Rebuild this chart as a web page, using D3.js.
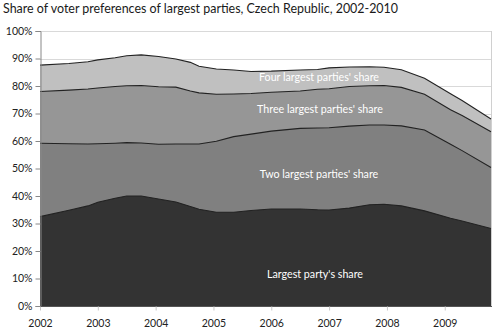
<!DOCTYPE html>
<html>
<head>
<meta charset="utf-8">
<script src="https://cdn.jsdelivr.net/npm/d3@7"></script>
<style>
  html, body { margin: 0; padding: 0; background: #fff; }
  svg { display: block; }
  text { font-family: Lato, "Open Sans", sans-serif; }
</style>
</head>
<body>
<svg id="chart" width="494" height="330"></svg>
<script>
// Survey dates (fractional years)
const dates = [2002.0, 2002.5, 2002.83, 2003.0, 2003.3, 2003.5, 2003.75, 2004.05, 2004.35, 2004.6,
  2004.75, 2005.05, 2005.35, 2005.65, 2006.0, 2006.5, 2006.8, 2007.0, 2007.35, 2007.7,
  2007.95, 2008.25, 2008.65, 2009.1, 2009.3, 2009.8];

// Cumulative shares (%) of the largest parties
const largestParty = [32.5, 34.8, 36.4, 37.7, 39.2, 40.0, 40.0, 38.9, 37.8, 36.2,
  35.2, 34.1, 34.1, 34.7, 35.3, 35.3, 35.0, 34.9, 35.6, 36.8,
  37.0, 36.4, 34.6, 31.9, 30.9, 28.2];
const twoLargest = [59.2, 59.0, 58.9, 59.0, 59.2, 59.4, 59.3, 58.8, 58.9, 58.9,
  58.9, 59.9, 61.6, 62.5, 63.6, 64.6, 64.7, 64.8, 65.4, 65.8,
  65.8, 65.5, 64.0, 58.8, 56.5, 50.4];
const threeLargest = [78.0, 78.5, 78.9, 79.3, 79.8, 80.1, 80.2, 79.7, 79.6, 78.2,
  77.5, 77.0, 77.1, 77.3, 77.7, 78.2, 78.8, 79.0, 79.8, 80.1,
  80.2, 79.5, 77.0, 71.4, 69.3, 63.4];
const fourLargest = [87.6, 88.2, 88.8, 89.5, 90.3, 91.0, 91.3, 90.7, 89.8, 88.6,
  87.2, 86.2, 85.8, 85.3, 85.4, 85.8, 86.0, 86.6, 86.9, 87.0,
  86.8, 85.9, 82.8, 77.2, 74.7, 68.0];

const seriesNames = ["Four largest parties' share", "Three largest parties' share",
  "Two largest parties' share", "Largest party's share"];
const seriesValues = [fourLargest, threeLargest, twoLargest, largestParty];
const seriesColors = ["#c0c0c0", "#969696", "#808080", "#333333"];

const yearTicks = [2002, 2003, 2004, 2005, 2006, 2007, 2008, 2009];
const percentTicks = [0, 10, 20, 30, 40, 50, 60, 70, 80, 90, 100];

const titleText = "Share of voter preferences of largest parties, Czech Republic, 2002-2010";

// Layout
const plot = { left: 40, right: 491, top: 31, bottom: 306 };
const svg = d3.select("#chart");

const x = d3.scaleLinear().domain([2002, 2009.8]).range([plot.left, plot.right]);
const y = d3.scaleLinear().domain([0, 100]).range([plot.bottom, plot.top]);

// Fit a text element to a given width
function fitText(sel, width) {
  const w = sel.node().getComputedTextLength();
  const fs = parseFloat(sel.attr("font-size"));
  sel.attr("font-size", (fs * width / w).toFixed(2));
  return fs * width / w;
}

// Title
const title = svg.append("text")
  .attr("x", 3).attr("y", 13)
  .attr("font-size", 12).attr("fill", "#1a1a1a")
  .text(titleText);
fitText(title, 395);

// Gridlines
svg.append("g").selectAll("line")
  .data(percentTicks.filter(d => d > 0))
  .join("line")
  .attr("x1", plot.left).attr("x2", plot.right)
  .attr("y1", d => Math.round(y(d)) + 0.5).attr("y2", d => Math.round(y(d)) + 0.5)
  .attr("stroke", "#d9d9d9").attr("stroke-width", 1);

// Right border of the plot area
svg.append("line")
  .attr("x1", plot.right + 0.5).attr("x2", plot.right + 0.5)
  .attr("y1", plot.top).attr("y2", plot.bottom)
  .attr("stroke", "#d0d0d0");

// Stacked (cumulative) areas drawn from top band to bottom band
const area = d3.area()
  .x((d, i) => x(dates[i]))
  .y0(y(0))
  .y1(d => y(d));
const line = d3.line()
  .x((d, i) => x(dates[i]))
  .y(d => y(d));

const g = svg.append("g");
seriesValues.forEach((vals, k) => {
  g.append("path").datum(vals)
    .attr("d", area)
    .attr("fill", seriesColors[k]);
  g.append("path").datum(vals)
    .attr("d", line)
    .attr("fill", "none")
    .attr("stroke", "#222")
    .attr("stroke-width", 1.1);
});

// Axes
const yAxis = d3.axisLeft(y).tickValues(percentTicks).tickFormat(d => d + "%").tickSize(5).tickPadding(3);
const yG = svg.append("g").attr("transform", `translate(${plot.left + 0.5},0)`).call(yAxis);
yG.select(".domain").attr("stroke", "#888");
yG.selectAll(".tick line").attr("stroke", "#888");
yG.selectAll(".tick text").attr("font-size", 10.5).attr("fill", "#222")
  .attr("font-family", "Lato, sans-serif");

const xAxis = d3.axisBottom(x).tickValues(yearTicks).tickFormat(d3.format("d")).tickSize(4).tickPadding(9);
const xG = svg.append("g").attr("transform", `translate(0,${plot.bottom + 0.5})`).call(xAxis);
xG.select(".domain").attr("stroke", "#555").attr("d", `M${plot.left},0H${plot.right + 1}`);
xG.selectAll(".tick line").attr("stroke", "#c8c8c8");
xG.selectAll(".tick text").attr("font-size", 10.5).attr("fill", "#222")
  .attr("font-family", "Lato, sans-serif");

// Band labels
const labelPos = [
  { cx: 319, by: 81 },
  { cx: 320, by: 113 },
  { cx: 319, by: 178 },
  { cx: 315, by: 278 }
];
const labels = svg.append("g").selectAll("text")
  .data(seriesNames)
  .join("text")
  .attr("x", (d, i) => labelPos[i].cx)
  .attr("y", (d, i) => labelPos[i].by)
  .attr("text-anchor", "middle")
  .attr("fill", "#fff")
  .attr("font-size", 10)
  .text(d => d);
const fs = fitText(d3.select(labels.nodes()[0]), 120);
labels.attr("font-size", fs.toFixed(2));
</script>
</body>
</html>
